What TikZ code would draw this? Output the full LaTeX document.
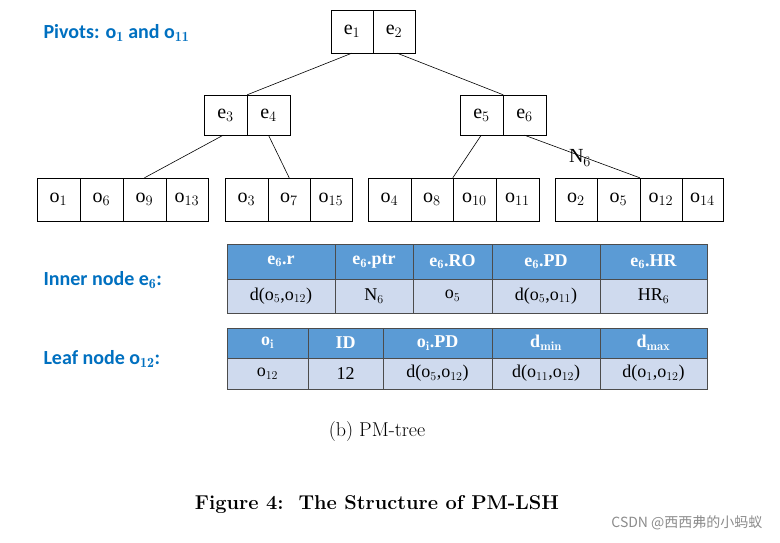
\documentclass[tikz,border=0pt]{standalone}
\usepackage{fontspec}
\newfontfamily\tnr{Liberation Serif}
\newfontfamily\calfont{Carlito}
\newfontfamily\cjkfont{Noto Sans CJK SC}
\definecolor{hdr}{HTML}{5B9BD5}
\definecolor{rowc}{HTML}{CFDAEE}
\definecolor{lab}{HTML}{0070C0}
\begin{document}
\begin{tikzpicture}[x=1pt,y=-1pt,
  cell/.style={draw,inner sep=0,font=\tnr\fontsize{20}{20}\selectfont},
  hcell/.style={draw=black!70,fill=hdr,text=white,inner sep=0,font=\tnr\bfseries\fontsize{18}{18}\selectfont},
  rcell/.style={draw=black!70,fill=rowc,inner sep=0,font=\tnr\fontsize{18}{18}\selectfont},
  lbl/.style={anchor=west,text=lab,font=\calfont\bfseries\fontsize{20}{20}\selectfont},
  edge/.style={draw,line width=0.6pt}]
\useasboundingbox (0,0) rectangle (780,543);
\fill[white] (0,0) rectangle (780,543);
% tree boxes
\newcommand{\cellbox}[6]{\node[cell,minimum width=#3-#2,minimum height=#5-#4] (#1) at ({(#2+#3)/2},{(#4+#5)/2}) {#6};}
\cellbox{e1}{331}{373}{10}{53}{e$_1$}
\cellbox{e2}{373}{415}{10}{53}{e$_2$}
\cellbox{e3}{204}{247}{95}{135}{e$_3$}
\cellbox{e4}{247}{290}{95}{135}{e$_4$}
\cellbox{e5}{460}{503}{95}{135}{e$_5$}
\cellbox{e6}{503}{546}{95}{135}{e$_6$}
\cellbox{a1}{37}{80}{178}{221}{o$_1$}
\cellbox{a2}{80}{123}{178}{221}{o$_6$}
\cellbox{a3}{123}{166}{178}{221}{o$_9$}
\cellbox{a4}{166}{208}{178}{221}{o$_{13}$}
\cellbox{b1}{225}{268}{178}{221}{o$_3$}
\cellbox{b2}{268}{310}{178}{221}{o$_7$}
\cellbox{b3}{310}{352}{178}{221}{o$_{15}$}
\cellbox{c1}{368}{411}{178}{221}{o$_4$}
\cellbox{c2}{411}{453}{178}{221}{o$_8$}
\cellbox{c3}{453}{496}{178}{221}{o$_{10}$}
\cellbox{c4}{496}{539}{178}{221}{o$_{11}$}
\cellbox{d1}{555}{597}{178}{221}{o$_2$}
\cellbox{d2}{597}{640}{178}{221}{o$_5$}
\cellbox{d3}{640}{682}{178}{221}{o$_{12}$}
\cellbox{d4}{682}{723}{178}{221}{o$_{14}$}
% edges
\draw[edge] ([xshift=21pt]e1.south west) -- (e3.north east);
\draw[edge] ([xshift=-18pt]e2.south east) -- (e5.north east);
\draw[edge] ([xshift=-24pt]e3.south east) -- (a3.north);
\draw[edge] (e4.south) -- ([xshift=-21pt]b2.north east);
\draw[edge] ([xshift=-22pt]e5.south east) -- (c3.north west);
\draw[edge] (e6.south) -- (d3.north west);
\node[font=\tnr\fontsize{20}{20}\selectfont] (n6) at (580,158) {N$_6$};
% labels
\node[lbl] (piv) at (40,33) {Pivots: o$_{\mathbf 1}$ and o$_{\mathbf{11}}$};
\node[lbl] (inn) at (40,280) {Inner node e$_{\mathbf 6}$:};
\node[lbl] (lea) at (40,359) {Leaf node o$_{\mathbf{12}}$:};
% table 1
\newcommand{\tc}[7]{\node[#7,minimum width=#3-#2,minimum height=#5-#4] (#1) at ({(#2+#3)/2},{(#4+#5)/2}) {#6};}
\tc{h1}{227}{335}{244}{279}{e$_{\mathbf 6}$.r}{hcell}
\tc{h2}{335}{413}{244}{279}{e$_{\mathbf 6}$.ptr}{hcell}
\tc{h3}{413}{492}{244}{279}{e$_{\mathbf 6}$.RO}{hcell}
\tc{h4}{492}{600}{244}{279}{e$_{\mathbf 6}$.PD}{hcell}
\tc{h5}{600}{707}{244}{279}{e$_{\mathbf 6}$.HR}{hcell}
\tc{r1}{227}{335}{279}{313}{d(o$_5$,o$_{12}$)}{rcell}
\tc{r2}{335}{413}{279}{313}{N$_6$}{rcell}
\tc{r3}{413}{492}{279}{313}{o$_5$}{rcell}
\tc{r4}{492}{600}{279}{313}{d(o$_5$,o$_{11}$)}{rcell}
\tc{r5}{600}{707}{279}{313}{HR$_6$}{rcell}
% table 2
\tc{g1}{227}{308}{328}{358}{o$_{\mathbf i}$}{hcell}
\tc{g2}{308}{383}{328}{358}{ID}{hcell}
\tc{g3}{383}{492}{328}{358}{o$_{\mathbf i}$.PD}{hcell}
\tc{g4}{492}{600}{328}{358}{d$_{\mathbf{min}}$}{hcell}
\tc{g5}{600}{707}{328}{358}{d$_{\mathbf{max}}$}{hcell}
\tc{s1}{227}{308}{358}{389}{o$_{12}$}{rcell}
\tc{s2}{308}{383}{358}{389}{12}{rcell}
\tc{s3}{383}{492}{358}{389}{d(o$_5$,o$_{12}$)}{rcell}
\tc{s4}{492}{600}{358}{389}{d(o$_{11}$,o$_{12}$)}{rcell}
\tc{s5}{600}{707}{358}{389}{d(o$_1$,o$_{12}$)}{rcell}
% captions
\node[font=\fontsize{20}{20}\selectfont] (cap) at (377,432) {(b) PM-tree};
\node[font=\bfseries\fontsize{20}{20}\selectfont] (fig) at (377,505) {Figure 4:\ \ The Structure of PM-LSH};
\node[anchor=east,text=black!45,font=\cjkfont\fontsize{14}{14}\selectfont] (wm) at (766,523) {CSDN @西西弗的小蚂蚁};
\end{tikzpicture}
\end{document}
